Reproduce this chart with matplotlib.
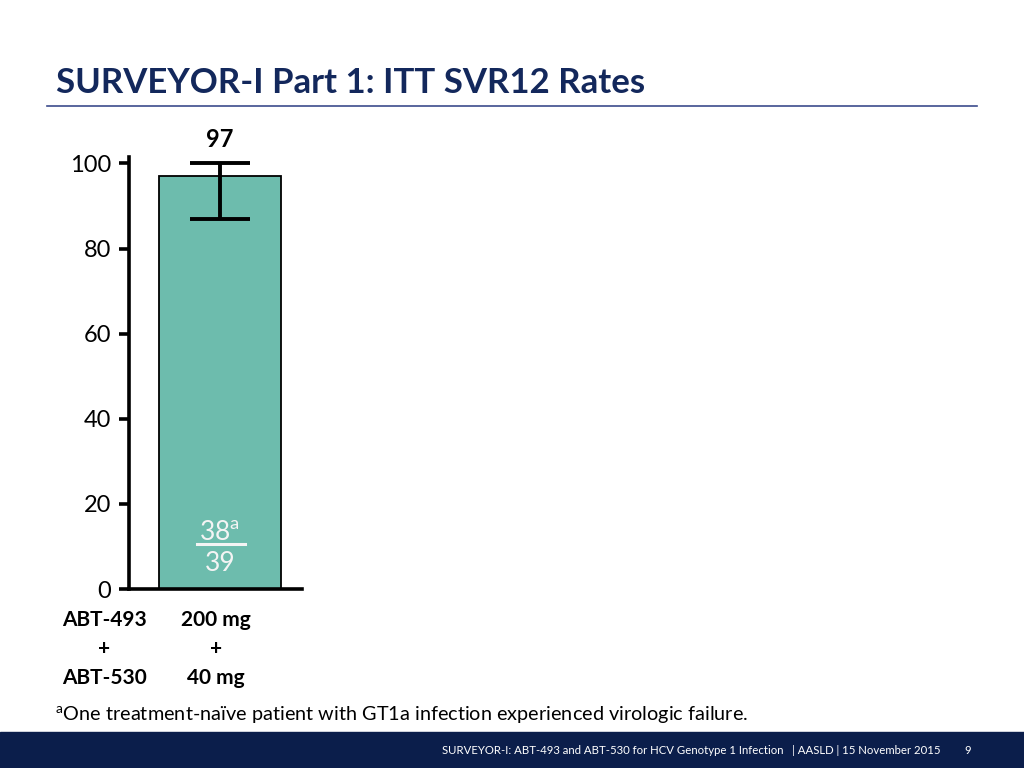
import matplotlib
matplotlib.use("Agg")
import matplotlib.pyplot as plt
import numpy as np

plt.rcParams['font.family'] = ['Lato', 'DejaVu Sans']

# data
groups = ["ABT-493\n+\nABT-530"]
doses = ["200 mg\n+\n40 mg"]
svr = [97]
ci_low = [87]
ci_high = [100]
n_resp = [38]
n_total = [39]

W, H = 1024, 768
navy = "#13285c"
teal = "#6dbcad"

fig = plt.figure(figsize=(W / 100, H / 100), dpi=100)


def fx(px):
    return px / W


def fy(py):
    return 1 - py / H


# axes: y axis at x=129px, 0 at y=589px, top of spine ~157px
ax = fig.add_axes([fx(129), fy(589), fx(302) - fx(129), fy(157) - fy(589)])
x = np.arange(len(svr))
yerr = [np.array(svr) - np.array(ci_low), np.array(ci_high) - np.array(svr)]
ax.bar(x, svr, width=0.6, color=teal, edgecolor="black", linewidth=1.3, zorder=2)
ax.errorbar(x, svr, yerr=yerr, fmt="none", ecolor="black", elinewidth=2.8,
            capsize=21.5, capthick=2.8, zorder=3)
ax.set_xlim(-0.448, 0.404)
ax.set_ylim(0, 101.5)
ax.set_yticks([0, 20, 40, 60, 80, 100])
ax.set_xticks([])
for s in ["top", "right"]:
    ax.spines[s].set_visible(False)
for s in ["left", "bottom"]:
    ax.spines[s].set_linewidth(2.6)
ax.tick_params(axis="y", direction="out", length=7, width=2.6, labelsize=17, pad=6)
ax.patch.set_alpha(0)

for xi, v in zip(x, svr):
    ax.text(xi, 105.7, f"{v}", ha="center", va="center", fontsize=17,
            fontweight="bold", clip_on=False)

for xi, r, t in zip(x, n_resp, n_total):
    ax.text(xi - 0.005, 13.1, f"{r}$^{{\\mathregular{{a}}}}$", ha="center", va="center",
            fontsize=19, color="#f4f4f4")
    ax.plot([xi - 0.113, xi + 0.123], [10.6, 10.6], color="#f4f4f4", lw=2.2)
    ax.text(xi, 5.9, f"{t}", ha="center", va="center", fontsize=19,
            color="#f4f4f4")

# x category labels
fig.text(fx(104), fy(649), groups[0], ha="center", va="center", fontsize=15,
         fontweight="bold", linespacing=1.58)
fig.text(fx(216), fy(649), doses[0], ha="center", va="center", fontsize=15,
         fontweight="bold", linespacing=1.58)

# title and rule
fig.text(fx(56), fy(83), "SURVEYOR-I Part 1: ITT SVR12 Rates", ha="left",
         va="center", fontsize=25, fontweight="bold", color=navy)
fig.add_artist(plt.Line2D([fx(47), fx(977)], [fy(106), fy(106)],
                          color="#3c4c8c", lw=1.2))

# footnote
fig.text(fx(55), fy(715), "$^{\\mathregular{a}}$One treatment-naïve patient with GT1a infection experienced virologic failure.",
         ha="left", va="center", fontsize=14.3)

# footer band
fig.add_artist(plt.Rectangle((0, 0), 1, fy(732), transform=fig.transFigure,
                             color="#0b1e4b", zorder=0))
fig.text(fx(941), fy(750), "SURVEYOR-I: ABT-493 and ABT-530 for HCV Genotype 1 Infection   | AASLD | 15 November 2015",
         ha="right", va="center", fontsize=8.2, color="white")
fig.text(fx(968), fy(750), "9", ha="center", va="center", fontsize=8.2,
         color="white")

fig.savefig("out.png", dpi=100)
